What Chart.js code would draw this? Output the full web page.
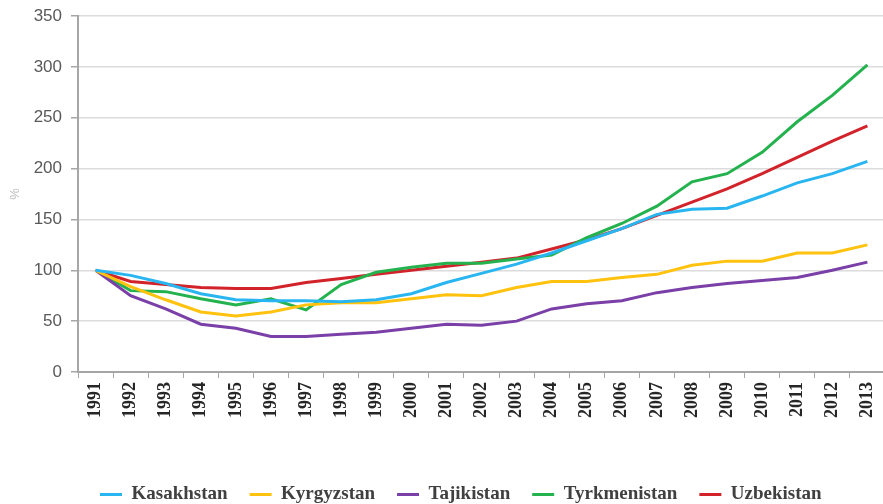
<!DOCTYPE html>
<html>
<head>
<meta charset="utf-8">
<script src="https://cdn.jsdelivr.net/npm/chart.js@4/dist/chart.umd.min.js"></script>
<style>
  html, body { margin: 0; padding: 0; background: #fff; }
  #frame { width: 883px; height: 504px; overflow: hidden; position: relative; }
  #box { width: 893px; height: 514px; position: absolute; left: 0; top: 0; }
</style>
</head>
<body>
<div id="frame"><div id="box"><canvas id="myChart"></canvas></div></div>
<script>
const years = ['1991', '1992', '1993', '1994', '1995', '1996', '1997', '1998', '1999', '2000', '2001', '2002',
  '2003', '2004', '2005', '2006', '2007', '2008', '2009', '2010', '2011', '2012', '2013'];

const kasakhstan   = [100, 95, 87, 77, 71, 70, 70, 69, 71, 77, 88, 97, 106, 117, 129, 141, 155, 160, 161, 173, 186, 195, 207];
const kyrgyzstan   = [100, 84, 71, 59, 55, 59, 66, 68, 68, 72, 76, 75, 83, 89, 89, 93, 96, 105, 109, 109, 117, 117, 125];
const tajikistan   = [100, 75, 62, 47, 43, 35, 35, 37, 39, 43, 47, 46, 50, 62, 67, 70, 78, 83, 87, 90, 93, 100, 108];
const tyrkmenistan = [100, 80, 79, 72, 66, 72, 61, 86, 98, 103, 107, 107, 111, 115, 132, 146, 163, 187, 195, 216, 246, 272, 302];
const uzbekistan   = [100, 89, 86, 83, 82, 82, 88, 92, 96, 100, 104, 108, 112, 121, 130, 141, 154, 167, 180, 195, 211, 227, 242];

const seriesNames = ['Kasakhstan', 'Kyrgyzstan', 'Tajikistan', 'Tyrkmenistan', 'Uzbekistan'];
const seriesData = [kasakhstan, kyrgyzstan, tajikistan, tyrkmenistan, uzbekistan];
const colors = ['#29B6F0', '#FFC20E', '#7B3FA8', '#24B24F', '#D2232A'];

const axisColor = '#a6a6a6';

new Chart(document.getElementById('myChart'), {
    type: 'line',
    data: {
        labels: years,
        datasets: seriesNames.map((name, i) => ({
            label: name,
            data: seriesData[i],
            borderColor: colors[i],
            backgroundColor: colors[i],
            borderWidth: 3,
            pointRadius: 0,
            tension: 0,
            fill: false
        }))
    },
    options: {
        responsive: true,
        maintainAspectRatio: false,
        animation: false,
        layout: {padding: {top: 16, right: 0, bottom: 0, left: 0}},
        plugins: {
            tooltip: {enabled: false},
            legend: {
                position: 'bottom',
                align: 'start',
                fullSize: false,
                labels: {
                    boxWidth: 22,
                    boxHeight: 3,
                    padding: 22,
                    color: '#404040',
                    font: {family: 'Liberation Serif', size: 19, weight: 'bold'},
                    generateLabels: (chart) => {
                        const items = Chart.defaults.plugins.legend.labels.generateLabels(chart);
                        items.forEach(it => { it.lineWidth = 0; });
                        return items;
                    }
                }
            }
        },
        scales: {
            x: {
                offset: true,
                afterFit: (s) => { s.height = 91; },
                grid: {offset: true, drawOnChartArea: false, tickLength: 6, color: axisColor},
                border: {color: axisColor, width: 2},
                ticks: {
                    autoSkip: false,
                    minRotation: 90,
                    maxRotation: 90,
                    padding: 4,
                    color: '#262626',
                    font: {family: 'Liberation Serif', size: 18, weight: 'bold'}
                }
            },
            y: {
                min: 0,
                max: 350,
                afterFit: (s) => { s.width = 78; },
                title: {
                    display: true,
                    text: '%',
                    color: '#bfbfbf',
                    padding: {top: 8, bottom: 0},
                    font: {family: 'Liberation Sans', size: 13}
                },
                grid: {color: '#dcdcdc', lineWidth: 1.5, tickColor: axisColor, tickLength: 7},
                border: {color: axisColor, width: 2},
                ticks: {
                    stepSize: 50,
                    padding: 9,
                    color: '#595959',
                    font: {family: 'Liberation Sans', size: 17, lineHeight: 0.8}
                }
            }
        }
    }
});
</script>
</body>
</html>
